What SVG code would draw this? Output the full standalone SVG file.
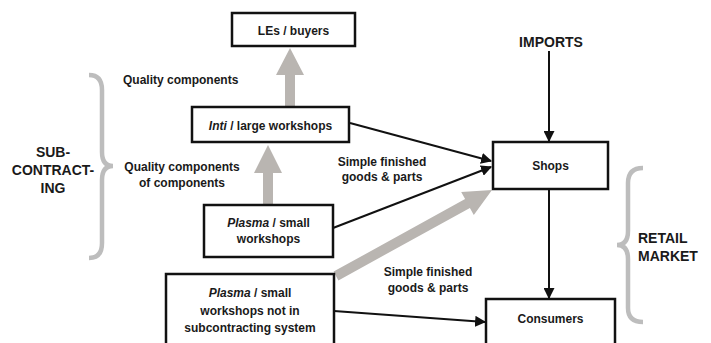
<svg xmlns="http://www.w3.org/2000/svg" width="711" height="343" viewBox="0 0 711 343">
<style>
  .box { fill: #ffffff; stroke: #111111; stroke-width: 2.5; }
  .t { font-family: "Liberation Sans", Arial, sans-serif; font-weight: bold; font-size: 12px; fill: #1a1a1a; text-anchor: middle; }
  .big { font-size: 14px; }
  .ln { stroke: #111111; stroke-width: 2; fill: none; }
  .ga { fill: #b9b5b1; }
  .brace { fill: none; stroke: #bdbdbd; stroke-width: 4.5; stroke-linecap: butt; }
</style>
<defs>
  <marker id="ah" viewBox="0 0 10 10" refX="9" refY="5" markerWidth="5.5" markerHeight="5.5" orient="auto" markerUnits="strokeWidth">
    <path d="M0,0 L10,5 L0,10 z" fill="#111111"/>
  </marker>
</defs>
<rect width="711" height="343" fill="#ffffff"/>

<g id="connectors">
  <polygon class="ga" points="285,107 285,75 276,75 290,48 304,75 295,75 295,107"/>
  <polygon class="ga" points="263,205 263,173 254,173 268,145 282,173 273,173 273,205"/>
  <polygon class="ga" points="338.4,280.4 469.9,207.9 473.8,214.9 492,190 461.2,192.1 465.1,199.1 333.6,271.6"/>
  <line class="ln" x1="350" y1="123" x2="491" y2="161" marker-end="url(#ah)"/>
  <line class="ln" x1="333" y1="228" x2="491" y2="167" marker-end="url(#ah)"/>
  <line class="ln" x1="334" y1="311" x2="485" y2="322" marker-end="url(#ah)"/>
  <line class="ln" x1="549" y1="51" x2="549" y2="141" marker-end="url(#ah)"/>
  <line class="ln" x1="549" y1="189" x2="549" y2="298" marker-end="url(#ah)"/>
</g>

<g id="brace-subcontracting">
  <path class="brace" d="M89,75 Q102,75 102,90 L102,152 Q102,166 113,166 Q102,166 102,180 L102,243 Q102,258 89,258"/>
  <text class="t big" x="53" y="157">SUB-</text>
  <text class="t big" x="53" y="175">CONTRACT-</text>
  <text class="t big" x="53" y="193">ING</text>
</g>

<g id="brace-retail">
  <path class="brace" d="M643,168 Q628,168 628,183 L628,231 Q628,245 617,245 Q628,245 628,259 L628,308 Q628,322 643,322"/>
  <text class="t big" x="638" y="243" style="text-anchor:start">RETAIL</text>
  <text class="t big" x="638" y="261" style="text-anchor:start">MARKET</text>
</g>

<g id="labels">
  <text class="t" x="123" y="84" style="text-anchor:start">Quality components</text>
  <text class="t" x="182" y="171">Quality components</text>
  <text class="t" x="182" y="187">of components</text>
  <text class="t" x="382" y="166">Simple finished</text>
  <text class="t" x="382" y="181">goods &amp; parts</text>
  <text class="t" x="428" y="276">Simple finished</text>
  <text class="t" x="428" y="292">goods &amp; parts</text>
</g>

<g id="node-les">
  <rect class="box" x="232" y="13" width="123" height="33"/>
  <text class="t" x="293.5" y="35">LEs / buyers</text>
</g>

<g id="node-inti">
  <rect class="box" x="192" y="107" width="157" height="35"/>
  <text class="t" x="270.5" y="130"><tspan font-style="italic">Inti</tspan> / large workshops</text>
</g>

<g id="node-plasma-small">
  <rect class="box" x="204" y="205" width="129" height="52"/>
  <text class="t" x="268.5" y="227"><tspan font-style="italic">Plasma</tspan> / small</text>
  <text class="t" x="268.5" y="243">workshops</text>
</g>

<g id="node-plasma-other">
  <rect class="box" x="166" y="274" width="168" height="80"/>
  <text class="t" x="250" y="297"><tspan font-style="italic">Plasma</tspan> / small</text>
  <text class="t" x="250" y="315">workshops not in</text>
  <text class="t" x="250" y="332">subcontracting system</text>
</g>

<g id="node-imports">
  <text class="t big" x="551" y="47">IMPORTS</text>
</g>

<g id="node-shops">
  <rect class="box" x="493" y="142" width="115" height="47"/>
  <text class="t" x="550.5" y="170">Shops</text>
</g>

<g id="node-consumers">
  <rect class="box" x="486" y="299" width="129" height="60"/>
  <text class="t" x="550.5" y="323">Consumers</text>
</g>
</svg>
